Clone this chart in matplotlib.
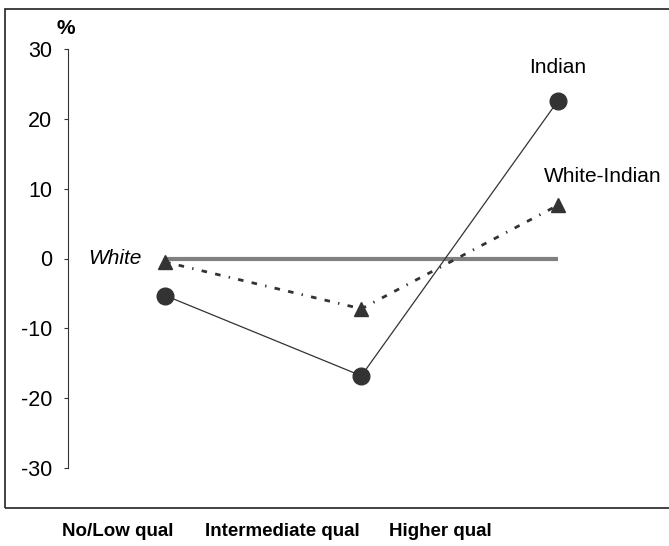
import matplotlib.pyplot as plt
from matplotlib.patches import Rectangle

plt.rcParams['font.family'] = ['Liberation Sans', 'DejaVu Sans']

categories = ['No/Low qual', 'Intermediate qual', 'Higher qual']
indian = [-5.3, -16.8, 22.5]
white_indian = [-0.5, -7.2, 7.6]
white_base = [0, 0, 0]
yticks = [30, 20, 10, 0, -10, -20, -30]

W, H = 669, 546
fig = plt.figure(figsize=(W / 100, H / 100), dpi=100)

# axes placed in pixel terms
left, right, top, bottom = 68, 640, 49, 468
ax = fig.add_axes([left / W, 1 - bottom / H, (right - left) / W, (bottom - top) / H])

x = [0, 1, 2]
ax.plot(x, white_base, color='#808080', lw=3, solid_capstyle='butt', zorder=1)
ax.plot(x, white_indian, color='#333333', lw=2, linestyle=(0, (2, 3, 2, 3, 0.5, 3)),
        marker='^', markersize=10, zorder=2)
ax.plot(x, indian, color='#333333', lw=0.9, marker='o', markersize=12, zorder=3)

ax.set_xlim(-0.495, 2.42)
ax.set_ylim(-30, 30)
ax.set_yticks(yticks)
ax.set_yticklabels([str(v) for v in yticks], fontsize=15.5)
ax.tick_params(axis='y', direction='out', length=3, color='#333333', pad=8.5)
ax.set_xticks([])
for s in ['top', 'right', 'bottom']:
    ax.spines[s].set_visible(False)
ax.spines['left'].set_color('#333333')
ax.patch.set_alpha(0)

ax.text(-0.12, 0, 'White', ha='right', va='center', fontsize=15, style='italic')
ax.text(2.0, 27.4, 'Indian', ha='center', va='center', fontsize=15)
ax.text(2.23, 11.7, 'White-Indian', ha='center', va='center', fontsize=15)

fig.text(66 / W, 1 - 28 / H, '%', ha='center', va='center', fontsize=15, fontweight='bold')

# outer frame (right edge runs off the image)
fig.patches.append(Rectangle((5 / W, 1 - 508 / H), (680 - 5) / W, (508 - 9) / H,
                             transform=fig.transFigure, fill=False, lw=1.2,
                             edgecolor='#222222'))

for cx, lab in zip([118, 282, 440], categories):
    fig.text(cx / W, 1 - 532 / H, lab, ha='center', va='center', fontsize=13.5,
             fontweight='bold')

fig.savefig('out.png', dpi=100)
